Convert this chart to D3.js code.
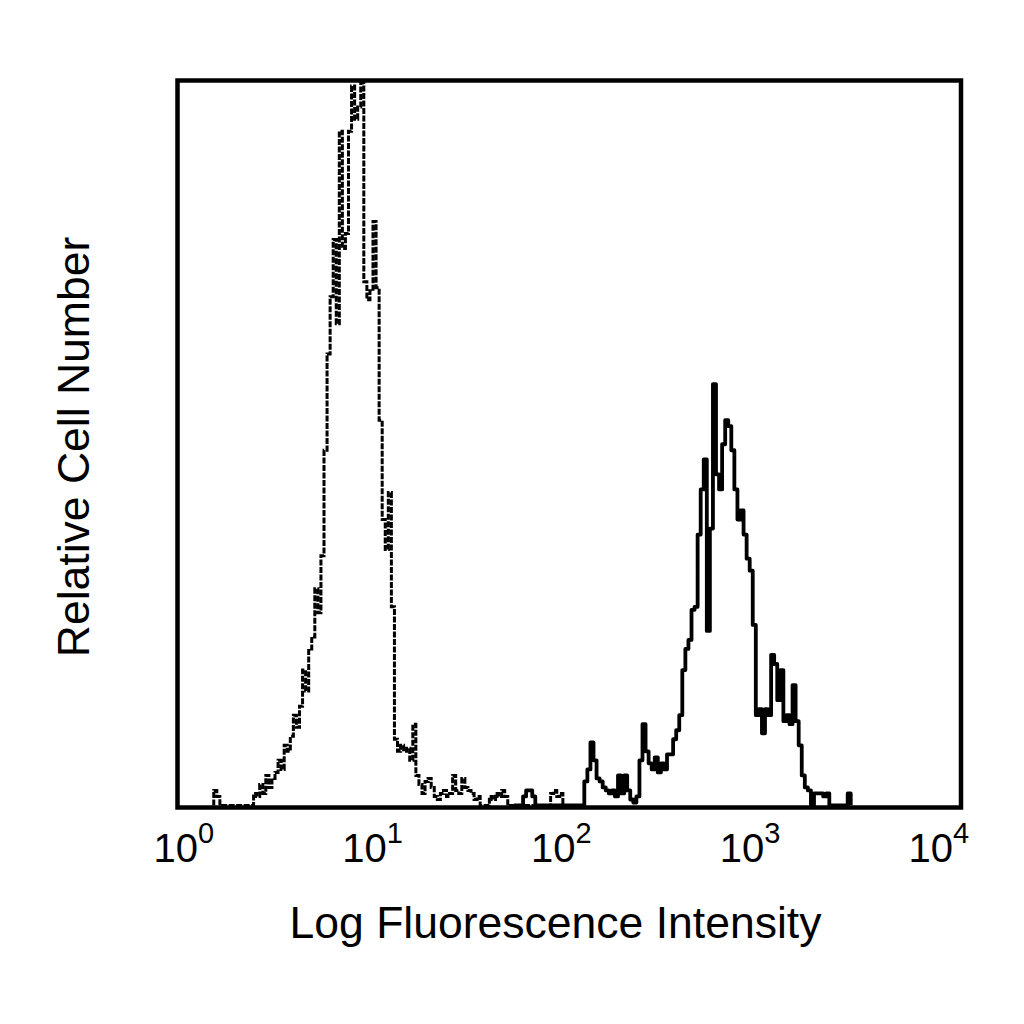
<!DOCTYPE html>
<html lang="en">
<head>
    <meta charset="UTF-8">
    <title>Log Fluorescence Histogram</title>
    <script src="https://cdn.jsdelivr.net/npm/d3@7"></script>
    <style>
        body { margin: 0; background: #fff; }
        text { font-family: "Liberation Sans", Arial, Helvetica, sans-serif; fill: #000; }
    </style>
</head>
<body>
    <div id="viz"></div>
    <script>
        // 256-channel log histogram, 64 channels per decade
        const channelsPerDecade = 64
        const tickExponents = [0, 1, 2, 3, 4]

        // isotype control (dashed), counts from channel 12
        const isotypeStart = 12
        const isotypeCounts = [
            5, 3, 0, 0, 0, 0, 0, 0, 0, 0, 0, 0, 0, 4,
            3, 7, 4, 10, 6, 9, 11, 15, 12, 20,
            18, 23, 30, 26, 33, 45, 38, 52, 56, 72,
            64, 83, 118, 150, 169, 188, 160, 224, 185, 190,
            224, 239, 228, 232, 240, 174, 168, 171, 194, 172,
            128, 95, 85, 104, 66, 22, 18, 20, 18, 19,
            15, 27, 10, 7,
            4, 8, 9, 6, 3, 2, 4, 5, 3, 4,
            10, 5, 4, 9, 6, 5, 4, 2, 3, 0,
            0, 0, 3, 2, 4, 3, 5, 3, 0, 0,
            0, 0, 0, 0, 0, 0, 0, 0, 0, 0,
            0, 0, 4, 5, 3, 4, 0
        ]

        // stained sample (solid), counts from channel 110
        const stainedStart = 110
        const stainedCounts = [
            0, 0, 0, 3, 5, 5, 3, 0, 0, 0,
            0, 0, 0, 0, 0, 0, 0, 0, 0, 0,
            0, 0, 0,
            8, 12, 21, 15, 9, 8, 6, 5, 4, 5,
            3, 10, 4, 10, 5, 2, 1, 3, 15, 27,
            18, 14, 12, 16, 11, 14, 12, 17, 17, 22,
            25, 30, 45, 52, 55, 65, 66, 90, 105, 115,
            58, 92, 140, 110, 105, 120, 128, 126, 118, 105,
            95, 98, 90, 82, 78, 60, 30, 32, 24, 32,
            30, 50, 47, 35, 45, 28, 30, 27, 40, 28,
            20, 10, 6, 5, 0, 4, 4, 4, 3, 4,
            0, 0, 0, 0, 0, 0, 4, 0
        ]

        const width = 1024
        const height = 1024
        const frame = {left: 177.5, top: 80.5, right: 961, bottom: 807.5}

        const svg = d3.select("#viz")
            .append("svg")
            .attr("width", width)
            .attr("height", height)

        const xScale = d3.scaleLog()
            .domain([1, 1e4])
            .range([177, 961])

        const yScale = d3.scaleLinear()
            .domain([0, 240])
            .range([805.5, 83])

        // tick labels sit a little left of the data scale in the original
        const labelScale = d3.scaleLog()
            .domain([1, 1e4])
            .range([153, 908])

        svg.append("clipPath")
            .attr("id", "plotClip")
            .append("rect")
            .attr("x", frame.left)
            .attr("y", frame.top)
            .attr("width", frame.right - frame.left)
            .attr("height", frame.bottom - frame.top)

        const toPoints = (start, counts) => {
            const pts = counts.map((v, i) => ({x: Math.pow(10, (start + i) / channelsPerDecade), y: v}))
            return [{x: pts[0].x, y: 0}].concat(pts)
        }

        const lineGen = d3.line()
            .x(d => xScale(d.x))
            .y(d => yScale(d.y))
            .curve(d3.curveStepAfter)

        const plot = svg.append("g").attr("clip-path", "url(#plotClip)")

        plot.append("path")
            .datum(toPoints(isotypeStart, isotypeCounts))
            .attr("d", lineGen)
            .attr("fill", "none")
            .attr("stroke", "#000")
            .attr("stroke-width", 3)
            .attr("stroke-dasharray", "6,1.5")

        plot.append("path")
            .datum(toPoints(stainedStart, stainedCounts))
            .attr("d", lineGen)
            .attr("fill", "none")
            .attr("stroke", "#000")
            .attr("stroke-width", 3.8)
            .attr("stroke-linejoin", "round")

        // frame
        svg.append("rect")
            .attr("x", frame.left)
            .attr("y", frame.top)
            .attr("width", frame.right - frame.left)
            .attr("height", frame.bottom - frame.top)
            .attr("fill", "none")
            .attr("stroke", "#000")
            .attr("stroke-width", 4.5)

        // x tick labels 10^n
        const xAxis = svg.append("g")
            .attr("transform", `translate(0,${862})`)
            .call(d3.axisBottom(labelScale)
                .tickValues(tickExponents.map(e => Math.pow(10, e)))
                .tickSize(0)
                .tickFormat(""))
        xAxis.select(".domain").remove()
        xAxis.selectAll(".tick text")
            .attr("y", 0)
            .attr("dy", 0)
            .attr("text-anchor", "start")
            .attr("font-size", 40)
            .attr("font-family", null)
            .each(function (d) {
                const t = d3.select(this)
                t.append("tspan").text("10")
                t.append("tspan")
                    .attr("dy", -19)
                    .attr("font-size", 29)
                    .text(Math.round(Math.log10(d)))
            })

        svg.append("text")
            .attr("x", 555.5)
            .attr("y", 938)
            .attr("text-anchor", "middle")
            .attr("font-size", 44.5)
            .text("Log Fluorescence Intensity")

        svg.append("text")
            .attr("transform", `translate(${89},${447}) rotate(-90)`)
            .attr("text-anchor", "middle")
            .attr("font-size", 44.5)
            .text("Relative Cell Number")
    </script>
</body>
</html>
